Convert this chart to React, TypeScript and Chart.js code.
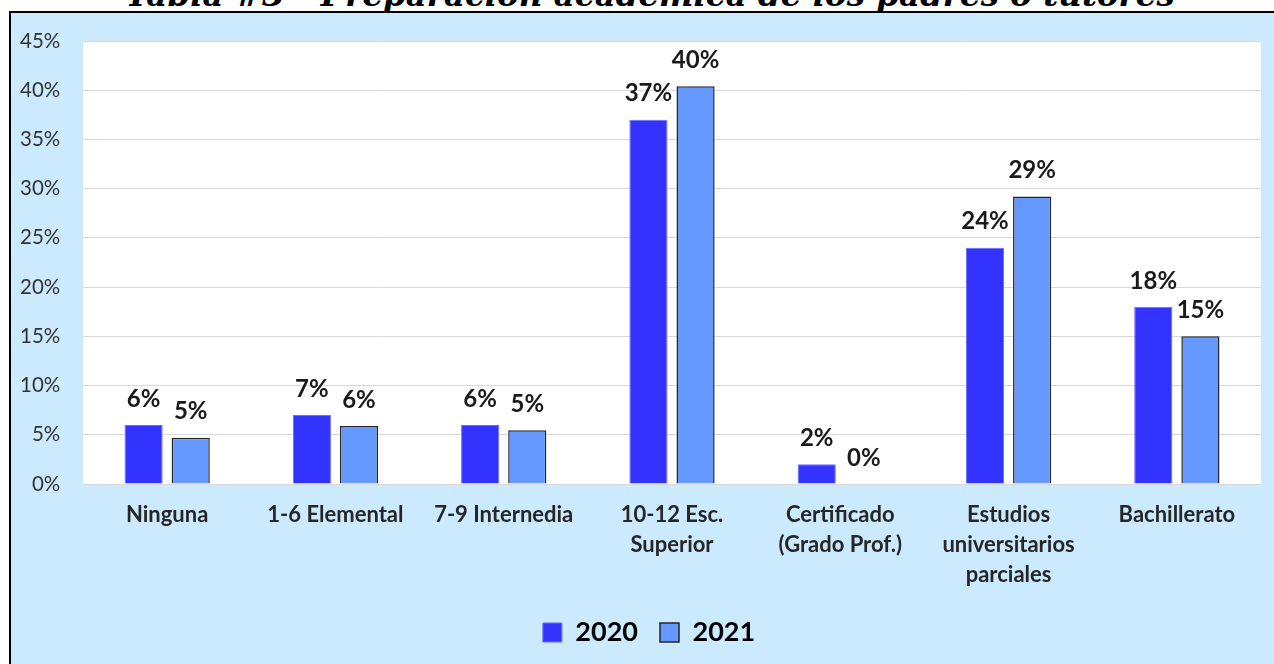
import React, { useEffect, useRef } from "react";
import { Chart, registerables } from "chart.js";

Chart.register(...registerables);

const categories: string[][] = [
  ["Ninguna"],
  ["1-6 Elemental"],
  ["7-9 Internedia"],
  ["10-12 Esc.", "Superior"],
  ["Certificado", "(Grado Prof.)"],
  ["Estudios", "universitarios", "parciales"],
  ["Bachillerato"],
];
const seriesNames = ["2020", "2021"];
const values2020 = [6.0, 7.0, 6.0, 37.0, 2.0, 24.0, 18.0];
const values2021 = [4.7, 5.9, 5.45, 40.4, 0, 29.2, 15.0];
const titleText = "Tabla #3 - Preparación académica de los padres o tutores";

const FONT = "Lato, 'Open Sans', sans-serif";

const bgPlugin = {
  id: "bgPlugin",
  beforeDraw(chart: any) {
    const { ctx, chartArea } = chart;
    ctx.save();
    ctx.fillStyle = "#cceafd";
    ctx.fillRect(0, 0, chart.width, chart.height);
    ctx.fillStyle = "#ffffff";
    ctx.fillRect(chartArea.left, chartArea.top, chartArea.right - chartArea.left, chartArea.bottom - chartArea.top);
    ctx.restore();
  },
};

const labelPlugin = {
  id: "labelPlugin",
  afterDatasetsDraw(chart: any) {
    const { ctx } = chart;
    ctx.save();
    ctx.font = `bold 24px ${FONT}`;
    ctx.fillStyle = "#1a1a1a";
    ctx.textAlign = "center";
    ctx.textBaseline = "middle";
    chart.data.datasets.forEach((ds: any, i: number) => {
      const meta = chart.getDatasetMeta(i);
      meta.data.forEach((el: any, j: number) => {
        const v = ds.data[j];
        ctx.fillText(Math.round(v) + "%", el.x, el.y - 26);
      });
    });
    ctx.restore();
  },
};

export default function App() {
  const ref = useRef<HTMLCanvasElement>(null);
  useEffect(() => {
    if (!ref.current) return;
    const chart = new Chart(ref.current, {
      type: "bar",
      data: {
        labels: categories,
        datasets: [
          {
            label: seriesNames[0],
            data: values2020,
            backgroundColor: "#3333ff",
            borderColor: "#6b6bff",
            borderWidth: 1,
            categoryPercentage: 0.56,
            barPercentage: 0.81,
          },
          {
            label: seriesNames[1],
            data: values2021,
            backgroundColor: "#6699ff",
            borderColor: "#262626",
            borderWidth: 1.5,
            categoryPercentage: 0.56,
            barPercentage: 0.81,
          },
        ],
      },
      options: {
        responsive: false,
        animation: false,
        devicePixelRatio: 1,
        layout: { padding: { left: 26, right: 13, top: 28, bottom: 8 } },
        plugins: {
          title: { display: false },
          tooltip: { enabled: false },
          legend: {
            position: "bottom",
            labels: {
              boxWidth: 19,
              boxHeight: 19,
              padding: 22,
              color: "#000000",
              font: { family: FONT, size: 27, weight: "bold" },
            },
          },
        },
        scales: {
          x: {
            grid: { display: false, drawTicks: false },
            border: { display: false },
            ticks: {
              color: "#262626",
              padding: 16,
              maxRotation: 0,
              autoSkip: false,
              font: { family: FONT, size: 22, weight: "bold", lineHeight: 1.36 },
            },
            afterFit: (s: any) => {
              s.height = 113;
            },
          },
          y: {
            min: 0,
            max: 45,
            grid: { color: "#d9d9d9", lineWidth: 1, drawTicks: false },
            border: { display: false },
            ticks: {
              stepSize: 5,
              mirror: true,
              crossAlign: "far",
              padding: -63,
              color: "#333333",
              font: { family: FONT, size: 20.5 },
              callback: (v: any) => v + "%",
            },
            afterFit: (s: any) => {
              s.width = 46;
              s.paddingTop = 0;
              s.paddingBottom = 0;
            },
          },
        },
      },
      plugins: [bgPlugin, labelPlugin],
    });
    return () => chart.destroy();
  }, []);

  return (
    <div
      style={{
        position: "fixed",
        left: 0,
        top: 0,
        width: 1274,
        height: 664,
        overflow: "hidden",
        background: "#ffffff",
      }}
    >
      <div
        style={{
          position: "absolute",
          left: 0,
          top: -21,
          width: 1300,
          textAlign: "center",
          fontFamily: "'DejaVu Serif', serif",
          fontWeight: "bold",
          fontStyle: "italic",
          fontSize: 32.5,
          lineHeight: "32px",
          color: "#000",
          whiteSpace: "nowrap",
        }}
      >
        {titleText}
      </div>
      <div
        style={{
          position: "absolute",
          left: 9,
          top: 11,
          width: 1300,
          height: 700,
          borderLeft: "2px solid #000",
          borderTop: "2px solid #000",
          background: "#cceafd",
        }}
      >
        <canvas ref={ref} width={1263} height={651} style={{ display: "block", width: 1263, height: 651 }} />
      </div>
    </div>
  );
}
